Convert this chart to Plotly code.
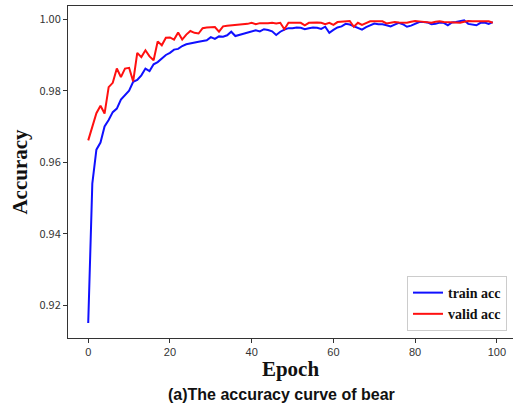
import plotly.graph_objects as go

epochs = list(range(100))

train_acc = [
    0.9150, 0.9540, 0.9635, 0.9655, 0.9700, 0.9718, 0.9740, 0.9750, 0.9775, 0.9788,
    0.9800, 0.9825, 0.9830, 0.9843, 0.9862, 0.9855, 0.9874, 0.9880, 0.9890, 0.9900,
    0.9906, 0.9915, 0.9917, 0.9925, 0.9930, 0.9933, 0.9935, 0.9937, 0.9939, 0.9941,
    0.9950, 0.9945, 0.9952, 0.9951, 0.9955, 0.9965, 0.9953, 0.9956, 0.9959, 0.9962,
    0.9966, 0.9969, 0.9966, 0.9972, 0.9970, 0.9966, 0.9956, 0.9965, 0.9971, 0.9975,
    0.9975, 0.9977, 0.9976, 0.9972, 0.9975, 0.9977, 0.9976, 0.9973, 0.9979, 0.9962,
    0.9970, 0.9977, 0.9980, 0.9987, 0.9985, 0.9980, 0.9976, 0.9971, 0.9978, 0.9982,
    0.9988, 0.9986, 0.9986, 0.9983, 0.9980, 0.9985, 0.9990, 0.9986, 0.9979, 0.9982,
    0.9986, 0.9992, 0.9992, 0.9991, 0.9986, 0.9987, 0.9991, 0.9990, 0.9983, 0.9991,
    0.9992, 0.9994, 0.9997, 0.9987, 0.9985, 0.9983, 0.9990, 0.9991, 0.9987, 0.9992,
]

valid_acc = [
    0.9661, 0.9700, 0.9737, 0.9758, 0.9736, 0.9810, 0.9822, 0.9862, 0.9838, 0.9862,
    0.9864, 0.9826, 0.9906, 0.9894, 0.9913, 0.9896, 0.9885, 0.9938, 0.9927, 0.9948,
    0.9949, 0.9943, 0.9963, 0.9943, 0.9957, 0.9967, 0.9962, 0.9960, 0.9975, 0.9977,
    0.9978, 0.9978, 0.9965, 0.9980, 0.9982, 0.9983, 0.9983, 0.9985, 0.9986, 0.9987,
    0.9990, 0.9986, 0.9989, 0.9988, 0.9989, 0.9990, 0.9988, 0.9990, 0.9972, 0.9990,
    0.9991, 0.9990, 0.9990, 0.9983, 0.9990, 0.9991, 0.9991, 0.9990, 0.9986, 0.9990,
    0.9984, 0.9992, 0.9993, 0.9994, 0.9995, 0.9979, 0.9990, 0.9984, 0.9990, 0.9994,
    0.9994, 0.9993, 0.9994, 0.9988, 0.9990, 0.9992, 0.9991, 0.9990, 0.9990, 0.9993,
    0.9995, 0.9994, 0.9992, 0.9990, 0.9990, 0.9993, 0.9994, 0.9992, 0.9992, 0.9992,
    0.9992, 0.9990, 0.9993, 0.9995, 0.9994, 0.9994, 0.9995, 0.9995, 0.9994, 0.9990,
]

x_ticks = [0, 20, 40, 60, 80, 100]
y_ticks = [0.92, 0.94, 0.96, 0.98, 1.00]
y_tick_labels = ["0.92", "0.94", "0.96", "0.98", "1.00"]

fig = go.Figure()
fig.add_trace(go.Scatter(x=epochs, y=train_acc, mode="lines", name="<b>train acc</b>",
                         line=dict(color="#1010ff", width=2)))
fig.add_trace(go.Scatter(x=epochs, y=valid_acc, mode="lines", name="<b>valid acc</b>",
                         line=dict(color="#ff1010", width=2)))

axis_common = dict(showline=True, linecolor="#333333", linewidth=1, mirror=True,
                   showgrid=False, zeroline=False, ticks="outside", ticklen=4,
                   tickcolor="#333333", tickwidth=1)

fig.update_layout(
    width=513, height=411,
    margin=dict(l=68, r=0, t=6, b=73),
    plot_bgcolor="white", paper_bgcolor="white",
    xaxis=dict(range=[-4.95, 103.95], tickvals=x_ticks,
               tickfont=dict(family="Liberation Sans, Arial", size=11, color="#333333"),
               title=dict(text="<b>Epoch</b>", standoff=4,
                          font=dict(family="Liberation Serif, Times New Roman", size=21, color="#111111")),
               **axis_common),
    yaxis=dict(range=[0.9108, 1.0037], tickvals=y_ticks, ticktext=y_tick_labels,
               tickfont=dict(family="Noto Sans CJK SC, DejaVu Sans", size=11, color="#333333"),
               title=dict(text="<b>Accuracy</b>", standoff=6,
                          font=dict(family="Liberation Serif, Times New Roman", size=21, color="#111111")),
               **axis_common),
    legend=dict(x=0.9865, y=0.021, xanchor="right", yanchor="bottom",
                bgcolor="white", bordercolor="#cccccc", borderwidth=1,
                font=dict(family="Liberation Serif, Times New Roman", size=14, color="#111111"),
                tracegroupgap=0, itemwidth=30),
    showlegend=True,
    annotations=[dict(text="<b>(a)The accuracy curve of bear</b>", xref="paper", yref="paper",
                      x=0.48, y=-0.138, xanchor="center", yanchor="top", showarrow=False,
                      font=dict(family="Liberation Sans, Arial", size=16, color="#111111"))],
)

fig.write_html("out.html")
